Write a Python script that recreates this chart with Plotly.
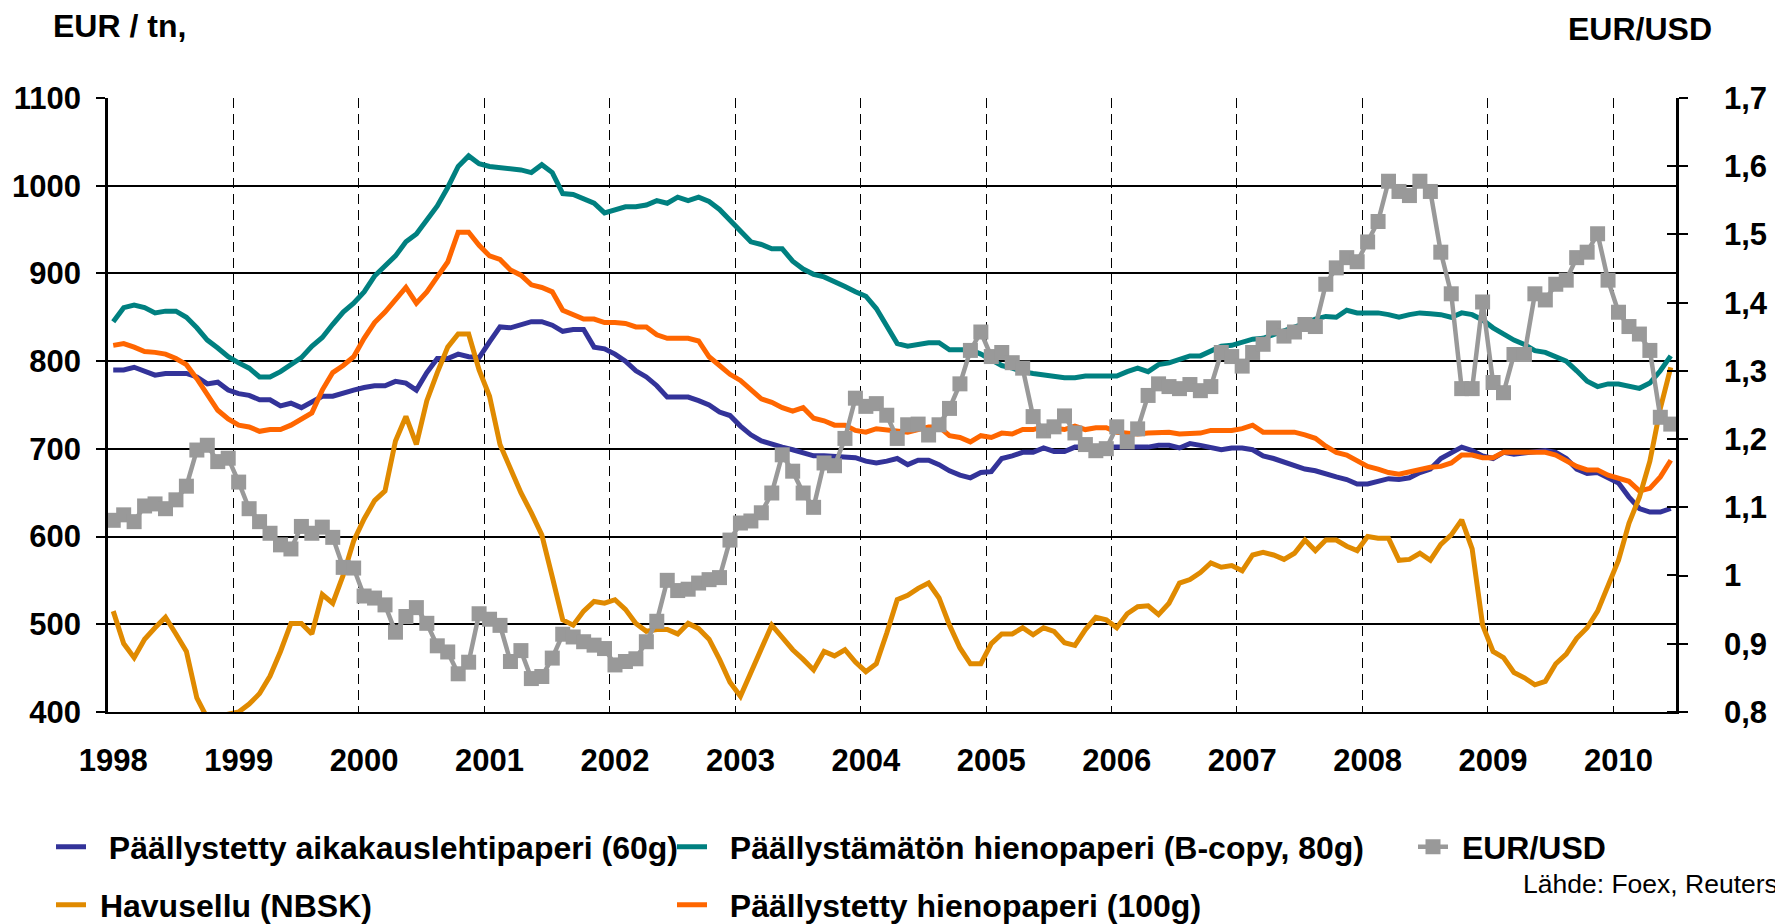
import plotly.graph_objects as go

# ---------------- data (monthly, Jan 1998 - Jun 2010) ----------------
start_year = 1998
n_months = 150
years = list(range(1998, 2011))
year_labels = [str(y) for y in years]

lwc_60g = [790, 790, 793, 789, 784, 786, 786, 786, 782, 774, 776, 767, 763, 761, 756, 756, 749, 752, 747, 753,
           760, 760, 764, 767, 770, 772, 772, 777, 775, 767, 787, 803, 803, 808, 805, 804, 822, 839,
           838, 841, 845, 845, 841, 834, 836, 836, 816, 814, 808, 800, 789, 782, 772, 759, 759, 759, 755, 750,
           742, 738, 726, 716, 709, 705, 702, 699, 695, 692, 692, 691, 690, 690, 686, 684, 686,
           689, 682, 687, 687, 682, 675, 670, 667, 673, 674, 689, 692, 696, 696, 701, 697, 697, 702, 702, 702,
           702, 702, 702, 702, 702, 704, 704, 701, 706, 704, 701, 699, 701, 701, 699, 692, 689,
           685, 682, 677, 675, 671, 668, 665, 660, 660, 663, 666, 665, 667, 673, 677, 689, 696, 702, 698, 692,
           689, 696, 694, 695, 697, 698, 696, 689, 677, 672, 673, 667, 661, 645, 632, 628, 628, 632]

uwf_80g = [845, 861, 864, 861, 855, 857, 857, 850, 838, 824, 815, 805, 798, 792, 782, 782, 788, 796, 804, 817,
           827, 842, 856, 866, 879, 897, 909, 920, 936, 945, 961, 977, 998, 1022, 1034, 1025, 1022, 1021,
           1020, 1018, 1015, 1024, 1015, 991, 990, 985, 980, 969, 973, 976, 976, 978, 983, 980, 987, 983, 987, 982,
           973, 961, 947, 936, 933, 928, 928, 914, 905, 899, 896, 891, 885, 879, 874, 860, 840,
           820, 817, 819, 821, 821, 813, 813, 813, 808, 801, 795, 792, 788, 786, 784, 782, 781, 781, 783, 783,
           783, 783, 788, 792, 788, 796, 798, 802, 806, 806, 812, 817, 818, 821, 825, 826, 830,
           834, 838, 843, 848, 851, 850, 858, 855, 855, 855, 853, 850, 853, 855, 854, 853, 850, 855, 853, 847,
           838, 831, 824, 819, 812, 810, 805, 800, 789, 777, 771, 774, 774, 772, 769, 775, 789, 806]

cwf_100g = [818, 820, 816, 811, 810, 808, 803, 796, 780, 763, 744, 734, 727, 725, 720, 722, 722, 727, 734, 741,
            767, 787, 795, 805, 826, 844, 856, 870, 884, 866, 879, 896, 913, 947, 947, 932, 920, 916,
            904, 898, 887, 884, 879, 858, 853, 848, 848, 844, 844, 843, 839, 839, 830, 826, 826, 826, 823, 805,
            795, 785, 778, 767, 757, 753, 747, 743, 747, 735, 732, 727, 727, 721, 719, 723, 722,
            721, 719, 722, 725, 725, 715, 713, 708, 715, 713, 718, 717, 722, 722, 725, 723, 722, 726, 722, 724,
            724, 719, 718, 717, 718, 719, 719, 717, 718, 718, 721, 721, 721, 723, 727, 719, 719,
            719, 719, 716, 712, 703, 696, 693, 686, 680, 677, 673, 671, 674, 677, 679, 680, 684, 693, 693, 690,
            690, 696, 696, 696, 695, 696, 693, 687, 680, 676, 676, 670, 667, 663, 652, 655, 668, 687]

nbsk = [515, 478, 462, 483, 496, 508, 489, 469, 416, 393, 395, 398, 400, 409, 421, 441, 469, 501, 501, 489,
        534, 524, 556, 595, 620, 641, 652, 709, 737, 705, 755, 787, 816, 831, 831, 790, 760, 705,
        677, 650, 627, 602, 554, 505, 499, 515, 526, 524, 528, 517, 501, 492, 494, 494, 489, 501, 495, 483,
        460, 434, 418, 444, 471, 499, 485, 471, 460, 448, 469, 464, 471, 457, 446, 455, 490,
        528, 533, 541, 547, 530, 499, 473, 455, 455, 478, 489, 489, 496, 488, 496, 492, 479, 476, 494, 508,
        505, 496, 512, 520, 521, 511, 524, 547, 551, 559, 570, 565, 567, 561, 579, 582, 579,
        574, 581, 596, 584, 596, 596, 589, 584, 600, 598, 598, 573, 574, 581, 573, 591, 602, 619, 586, 499,
        469, 462, 445, 439, 431, 435, 455, 466, 484, 496, 515, 544, 573, 615, 645, 686, 746, 793]

eur_usd = [1.081, 1.089, 1.079, 1.102, 1.105, 1.098, 1.111, 1.131, 1.184, 1.191, 1.167, 1.172, 1.137, 1.098,
           1.079, 1.062, 1.045, 1.039, 1.072, 1.062, 1.071, 1.056, 1.012, 1.011, 0.970, 0.967, 0.957, 0.917,
           0.940, 0.953, 0.930, 0.897, 0.888, 0.856, 0.873, 0.944, 0.936,
           0.927, 0.874, 0.890, 0.849, 0.852, 0.879, 0.914, 0.910, 0.903, 0.898, 0.893, 0.869, 0.874, 0.878,
           0.903, 0.933, 0.993, 0.978, 0.980, 0.989, 0.994, 0.997, 1.052, 1.077, 1.080, 1.092, 1.121, 1.177,
           1.153, 1.121, 1.100, 1.165, 1.161, 1.201, 1.260, 1.248, 1.252, 1.235,
           1.201, 1.221, 1.222, 1.206, 1.221, 1.245, 1.281, 1.330, 1.357, 1.321, 1.327, 1.312, 1.304, 1.233,
           1.212, 1.218, 1.234, 1.209, 1.192, 1.183, 1.186, 1.218, 1.196, 1.215, 1.264, 1.281, 1.277, 1.274,
           1.280, 1.271, 1.277, 1.327, 1.321, 1.307, 1.327, 1.339, 1.363,
           1.351, 1.357, 1.368, 1.365, 1.427, 1.451, 1.466, 1.460, 1.489, 1.519, 1.578, 1.563, 1.557, 1.578,
           1.563, 1.474, 1.413, 1.274, 1.274, 1.401, 1.283, 1.268, 1.324, 1.324, 1.413, 1.404, 1.427, 1.433,
           1.466, 1.474, 1.501, 1.433, 1.386, 1.365, 1.354, 1.330, 1.232, 1.222]

eur_ticks = [400, 500, 600, 700, 800, 900, 1000, 1100]
usd_ticks = [0.8, 0.9, 1.0, 1.1, 1.2, 1.3, 1.4, 1.5, 1.6, 1.7]
usd_labels = ["0,8", "0,9", "1", "1,1", "1,2", "1,3", "1,4", "1,5", "1,6", "1,7"]

names = {
    "lwc": "Päällystetty aikakauslehtipaperi (60g)",
    "uwf": "Päällystämätön hienopaperi (B-copy, 80g)",
    "usd": "EUR/USD",
    "nbsk": "Havusellu (NBSK)",
    "cwf": "Päällystetty hienopaperi (100g)",
}

# month centres in decimal years
x = [start_year + (i + 0.5) / 12 for i in range(n_months)]

FONT = "Liberation Sans, Arial, sans-serif"
LW = 5
NB = "\u00a0"  # small gap between legend swatch and label

fig = go.Figure()
fig.add_trace(go.Scatter(x=x, y=lwc_60g, name=NB * 2 + names["lwc"], mode="lines", showlegend=True,
                         line=dict(color="#333399", width=LW), legend="legend"))
fig.add_trace(go.Scatter(x=x, y=uwf_80g, name=NB * 2 + names["uwf"], mode="lines", showlegend=True,
                         line=dict(color="#008080", width=LW), legend="legend2"))
fig.add_trace(go.Scatter(x=x, y=cwf_100g, name=NB * 2 + names["cwf"], mode="lines", showlegend=True,
                         line=dict(color="#FF6600", width=LW), legend="legend5"))
fig.add_trace(go.Scatter(x=x, y=nbsk, name=NB + names["nbsk"], mode="lines", showlegend=True,
                         line=dict(color="#E08A00", width=LW), legend="legend4"))
fig.add_trace(go.Scatter(x=x, y=eur_usd, name=NB + names["usd"], mode="lines+markers", yaxis="y2",
                         showlegend=True,
                         line=dict(color="#999999", width=4.5),
                         marker=dict(symbol="square", size=15, color="#999999"),
                         legend="legend3"))

# the page body has an 8px margin: positions below are given in page pixels
OFF = 8
PL, PW, PB, PH = 108 - OFF, 1568, 712 - OFF, 614
def px_x(v):
    return (v - OFF - PL) / PW
def px_y(v):
    return (PB - (v - OFF)) / PH

def leg(xpage, ypage):
    return dict(x=px_x(xpage), y=px_y(ypage), xanchor="left", yanchor="middle", orientation="v",
                bgcolor="rgba(0,0,0,0)", borderwidth=0, itemwidth=30,
                font=dict(family=FONT, size=32, color="black", weight="bold"))

fig.update_layout(
    width=1783, height=924,
    margin=dict(l=PL, r=1783 - PL - PW, t=PB - PH, b=924 - PB, autoexpand=False),
    plot_bgcolor="white", paper_bgcolor="white",
    showlegend=True,
    font=dict(family=FONT, color="black"),
    legend=leg(51, 847),
    legend2=leg(672, 847),
    legend3=leg(1413, 847),
    legend4=leg(51, 905),
    legend5=leg(672, 905),
    xaxis=dict(
        range=[1998, 2010.5], tickmode="array",
        tickvals=[y + 1 / 24 for y in years], ticktext=year_labels,
        ticks="", showgrid=False, zeroline=False,
        showline=True, linecolor="black", linewidth=2,
        tickfont=dict(family=FONT, size=31, color="black", weight="bold"),
        ticklabelstandoff=20,
        minor=dict(tickmode="array", tickvals=years[1:], showgrid=True,
                   gridcolor="black", griddash="10px,6px", gridwidth=1,
                   ticks="inside", ticklen=5, tickcolor="black", tickwidth=1),
    ),
    yaxis=dict(
        range=[400, 1100], tickmode="array", tickvals=eur_ticks,
        showgrid=True, gridcolor="black", gridwidth=2, zeroline=False,
        showline=True, linecolor="black", linewidth=2.5,
        ticks="outside", ticklen=9, tickwidth=2, tickcolor="black",
        tickfont=dict(family=FONT, size=31, color="black", weight="bold"),
        ticklabelstandoff=9,
    ),
    yaxis2=dict(
        range=[0.8, 1.7], overlaying="y", side="right", tickmode="array",
        tickvals=usd_ticks, ticktext=usd_labels,
        showgrid=False, zeroline=False,
        showline=True, linecolor="black", linewidth=2.5,
        ticks="outside", ticklen=9, tickwidth=2, tickcolor="black",
        tickfont=dict(family=FONT, size=31, color="black", weight="bold"),
        ticklabelstandoff=30,
        minor=dict(tickmode="array", tickvals=[v + 1e-4 for v in usd_ticks],
                   ticks="inside", ticklen=9, tickwidth=2, tickcolor="black", showgrid=False),
    ),
    annotations=[
        dict(text="EUR / tn,", xref="paper", yref="paper", x=px_x(52), y=px_y(26),
             xanchor="left", yanchor="middle", showarrow=False, borderpad=0,
             font=dict(family=FONT, size=32, color="black", weight="bold")),
        dict(text="EUR/USD", xref="paper", yref="paper", x=px_x(1713), y=px_y(29),
             xanchor="right", yanchor="middle", showarrow=False, borderpad=0,
             font=dict(family=FONT, size=32, color="black", weight="bold")),
        dict(text="Lähde: Foex, Reuters", xref="paper", yref="paper", x=px_x(1779), y=px_y(884),
             xanchor="right", yanchor="middle", showarrow=False, borderpad=0,
             font=dict(family=FONT, size=26.5, color="black")),
    ],
)

fig.write_html("out.html")
